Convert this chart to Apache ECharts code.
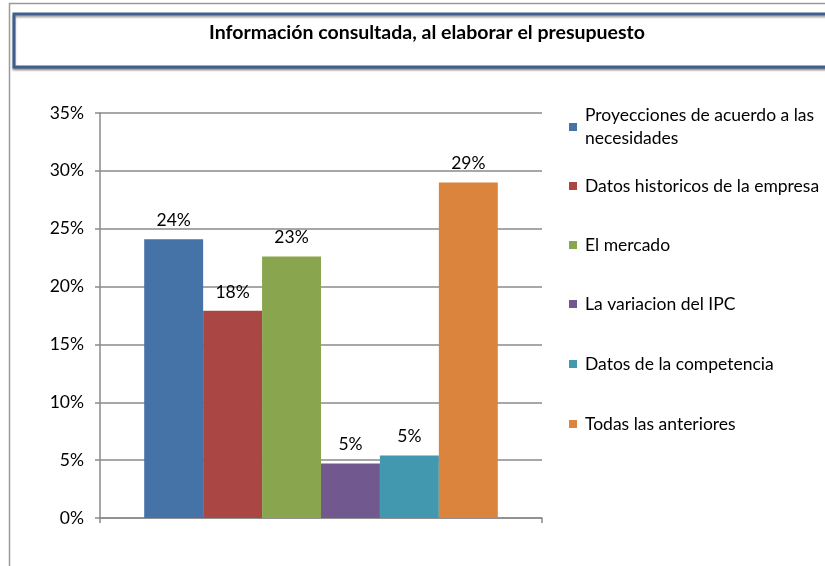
<!DOCTYPE html>
<html>
<head>
<meta charset="utf-8">
<script src="https://cdn.jsdelivr.net/npm/echarts@6/dist/echarts.min.js"></script>
<style>
  html, body { margin: 0; padding: 0; background: #fff; }
  #chart { width: 825px; height: 566px; }
</style>
</head>
<body>
<div id="chart"></div>
<script>
// datos de la grafica
var titulo = 'Información consultada, al elaborar el presupuesto';
var series_names = ['Proyecciones de acuerdo a las necesidades', 'Datos historicos de la empresa', 'El mercado',
                    'La variacion del IPC', 'Datos de la competencia', 'Todas las anteriores'];
var legend_labels = ['Proyecciones de acuerdo a las\nnecesidades', 'Datos historicos de la empresa', 'El mercado',
                     'La variacion del IPC', 'Datos de la competencia', 'Todas las anteriores'];
var values = [0.241, 0.179, 0.226, 0.047, 0.054, 0.29];
var colors = ['#4572A7', '#AA4643', '#89A54E', '#71588F', '#4198AF', '#DB843D'];
var y_ticks = [0, 0.05, 0.10, 0.15, 0.20, 0.25, 0.30, 0.35];

var font = 'Lato, "Open Sans", sans-serif';

function pct(v){
    return Math.round(v * 100) + '%';
}

var myChart = echarts.init(document.getElementById('chart'));

var series = [];
var legends = [];
var legend_centers = [127, 186, 245, 304, 364, 424];
for(var i = 0; i < series_names.length; i++){
    series.push({
        name: series_names[i],
        type: 'bar',
        data: [values[i]],
        barGap: 0,
        barCategoryGap: '20%',
        itemStyle: { color: colors[i] },
        label: {
            show: true,
            position: 'top',
            distance: 10,
            formatter: function(p){ return pct(p.value); },
            fontFamily: font,
            fontSize: 17.5,
            color: '#000'
        }
    });
    var two = legend_labels[i].indexOf('\n') >= 0;
    legends.push({
        data: [series_names[i]],
        left: 569,
        top: legend_centers[i] - (two ? 34.5 : 11.5),
        orient: 'vertical',
        icon: 'rect',
        itemWidth: 8,
        itemHeight: 8,
        itemGap: 0,
        padding: 0,
        selectedMode: false,
        formatter: (function(lbl){ return function(){ return lbl; }; })(legend_labels[i]),
        textStyle: {
            fontFamily: font,
            fontSize: 17.5,
            color: '#000',
            lineHeight: 23,
            padding: two ? [23, 0, 0, 3] : [0, 0, 0, 3]
        }
    });
}

var option = {
    animation: false,
    backgroundColor: '#fff',
    graphic: [
        {   // marco exterior
            type: 'rect',
            shape: { x: 9.5, y: 3.5, width: 900, height: 700 },
            style: { fill: 'none', stroke: '#9a9a9a', lineWidth: 1.5 }
        },
        {   // caja del titulo
            type: 'rect',
            shape: { x: 14, y: 14, width: 900, height: 53 },
            style: { fill: '#fff', stroke: '#3D5F8E', lineWidth: 3,
                     shadowColor: 'rgba(0,0,0,0.35)', shadowOffsetY: 2, shadowBlur: 2 }
        },
        {
            type: 'text',
            x: 427,
            y: 33,
            style: {
                text: titulo,
                align: 'center',
                verticalAlign: 'middle',
                fontFamily: font,
                fontWeight: 'bold',
                fontSize: 19.5,
                fill: '#000'
            }
        }
    ],
    legend: legends,
    grid: { left: 100, right: 283, top: 113, bottom: 48 },
    xAxis: {
        type: 'category',
        data: [''],
        axisLine: { lineStyle: { color: '#8a8a8a', width: 1.5 } },
        axisTick: { show: true, length: 5, lineStyle: { color: '#8a8a8a', width: 1.5 } },
        axisLabel: { show: false }
    },
    yAxis: {
        type: 'value',
        min: y_ticks[0],
        max: y_ticks[y_ticks.length - 1],
        interval: 0.05,
        axisLine: { show: true, lineStyle: { color: '#8a8a8a', width: 1.5 } },
        axisTick: { show: true, length: 5, lineStyle: { color: '#8a8a8a', width: 1.5 } },
        splitLine: { lineStyle: { color: '#8a8a8a', width: 1.5 } },
        axisLabel: {
            formatter: pct,
            fontFamily: font,
            fontSize: 17.5,
            color: '#000',
            margin: 16
        }
    },
    series: series
};

myChart.setOption(option);
</script>
</body>
</html>
